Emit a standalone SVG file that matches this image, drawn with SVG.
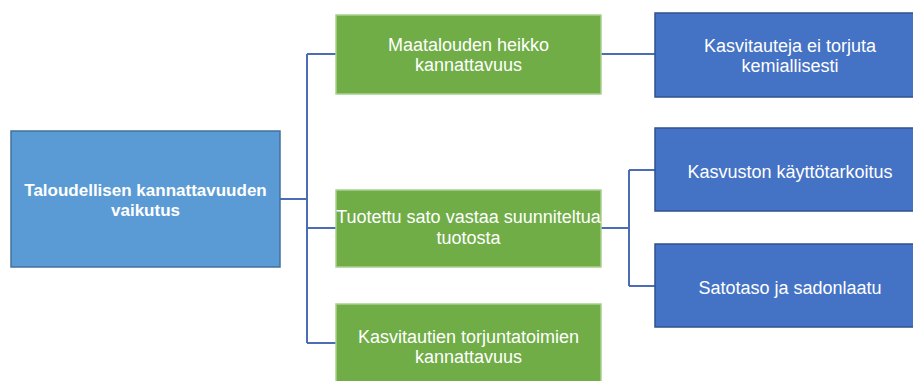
<svg xmlns="http://www.w3.org/2000/svg" width="913" height="381" viewBox="0 0 913 381">
<style>
.root{fill:#5B9BD5;stroke:#41719C;stroke-width:1.5}
.green{fill:#70AD47;stroke:#A9D18E;stroke-width:1.5}
.blue{fill:#4472C4;stroke:#2F528F;stroke-width:1.5}
text{font-family:"Liberation Sans",Arial,sans-serif;fill:#fff;text-anchor:middle;font-size:18px}
.b{font-weight:bold;font-size:17px}
.conn{fill:none;stroke:#4A6DB5;stroke-width:2}
</style>
<rect width="913" height="381" fill="#fff"/>
<g id="connectors">
<path class="conn" d="M280 199H307M307 54V343M307 54H336M307 228H336M307 343H336"/>
<path class="conn" d="M601 54H655"/>
<path class="conn" d="M601 228H629M629 170V286M629 170H655M629 286H655"/>
</g>
<g id="root">
<rect class="root" x="11" y="131" width="269" height="136"/>
<text class="b" x="145.5" y="196">Taloudellisen kannattavuuden</text>
<text class="b" x="145.5" y="216">vaikutus</text>
</g>
<g id="g1">
<rect class="green" x="336" y="15" width="265" height="79"/>
<text x="468.5" y="51">Maatalouden heikko</text>
<text x="468.5" y="71">kannattavuus</text>
</g>
<g id="g2">
<rect class="green" x="336" y="190" width="265" height="77"/>
<text x="468.5" y="223">Tuotettu sato vastaa suunniteltua</text>
<text x="468.5" y="244">tuotosta</text>
</g>
<g id="g3">
<rect class="green" x="336" y="304" width="265" height="78"/>
<text x="468.5" y="343">Kasvitautien torjuntatoimien</text>
<text x="468.5" y="363">kannattavuus</text>
</g>
<g id="b1">
<rect class="blue" x="655" y="13" width="270" height="84"/>
<text x="790" y="52">Kasvitauteja ei torjuta</text>
<text x="790" y="72">kemiallisesti</text>
</g>
<g id="b2">
<rect class="blue" x="655" y="128" width="270" height="83"/>
<text x="790" y="178">Kasvuston käyttötarkoitus</text>
</g>
<g id="b3">
<rect class="blue" x="655" y="244" width="270" height="83"/>
<text x="790" y="294">Satotaso ja sadonlaatu</text>
</g>
</svg>
